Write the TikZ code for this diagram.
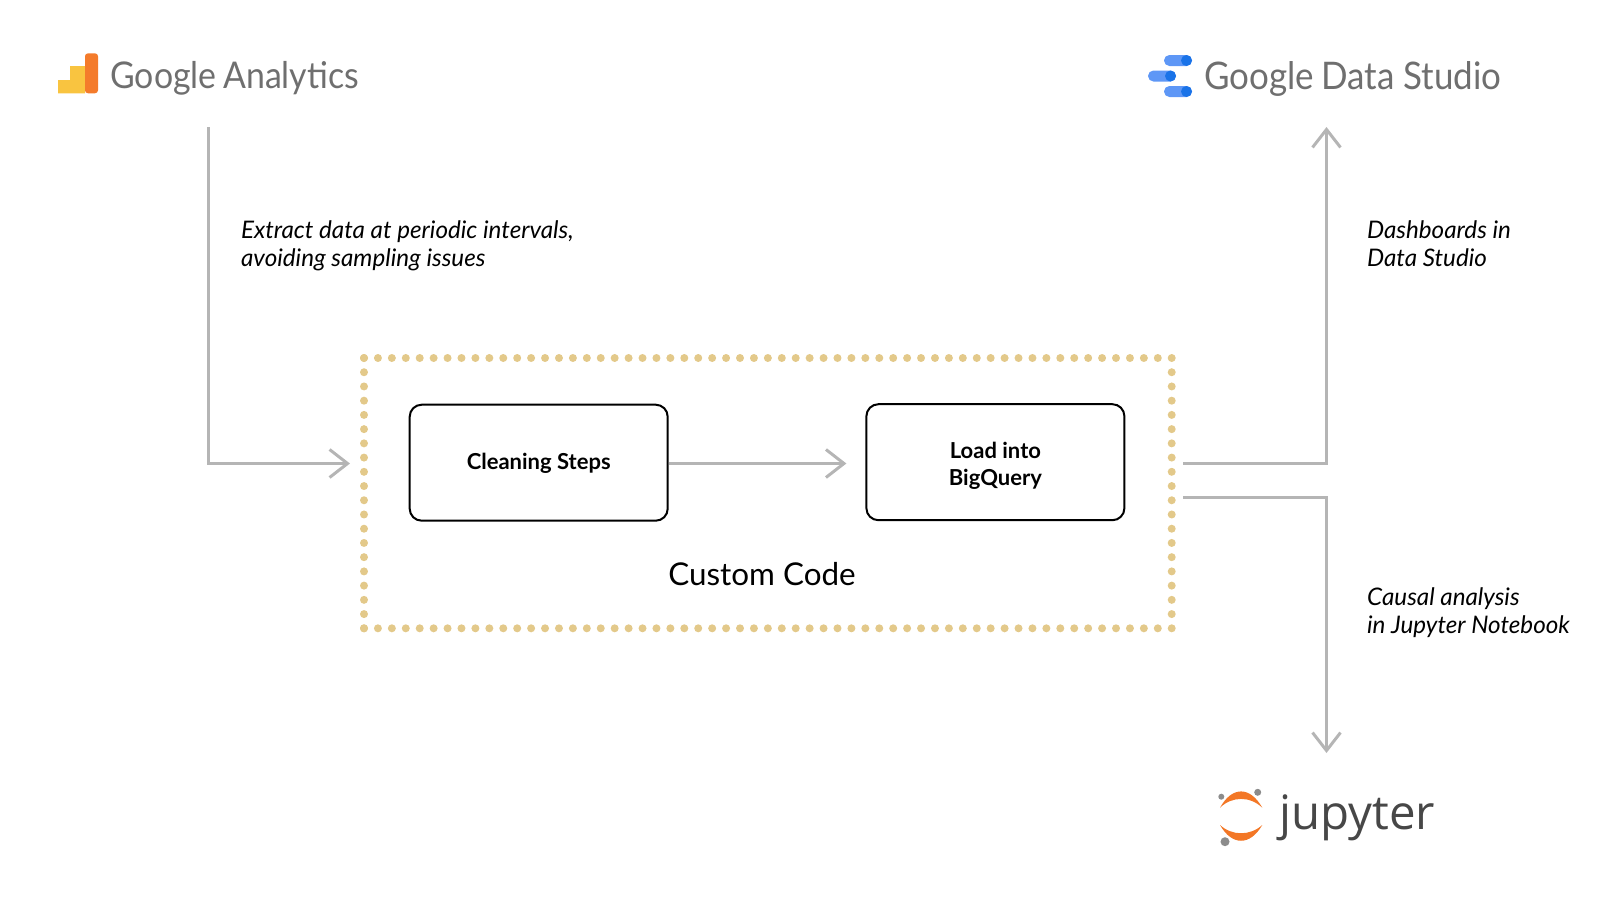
\documentclass[tikz,border=0pt]{standalone}
\usepackage{fontspec}
\setmainfont{Lato}
\newfontfamily\logofont{Open Sans}
\newfontfamily\brandfont[FakeStretch=0.92]{Lato}
\usetikzlibrary{arrows.meta}
\definecolor{flowgrey}{HTML}{B5B5B5}
\definecolor{logogrey}{HTML}{6F6F6F}
\definecolor{dotgold}{HTML}{E3C98A}
\definecolor{gayellow}{HTML}{F9C440}
\definecolor{gaorange}{HTML}{F47B2B}
\definecolor{dslight}{HTML}{5E97F6}
\definecolor{dsdark}{HTML}{1A73E8}
\definecolor{juporange}{HTML}{F37726}
\definecolor{jupgrey}{HTML}{8C8C8C}
\tikzset{
flowline/.style={draw=flowgrey,line width=1.5pt,-{Straight Barb[length=9pt,width=14pt,line width=1.5pt]}},
stepbox/.style={draw=black,line width=1pt,rounded corners=6pt,minimum width=129pt,minimum height=58pt,align=center,font=\fontsize{11}{13.5}\selectfont\bfseries},
note/.style={anchor=west,align=left,font=\fontsize{12.1}{14}\selectfont\itshape},
logotext/.style={anchor=west,text=logogrey,inner sep=0pt},
dotline/.style={dotgold,line width=4pt,line cap=round}
}
\begin{document}
\begin{tikzpicture}[x=0.5pt,y=-0.5pt]
\useasboundingbox (0,0) rectangle (1600,921);
% logos
\fill[gayellow] (58,93.3) -- (58,80) -- (70,80) -- (70,66) -- (85,66) -- (85,93.3) -- cycle;
\fill[gaorange,rounded corners=1.5pt] (85,53.3) rectangle (98,93.3);
\node[logotext] (ga) at (110,78) {\brandfont\fontsize{18.4}{18.4}\selectfont Google\hspace{-1pt} Analytics};
\fill[dslight,rounded corners=2.7pt] (1164,55) rectangle (1192,66);
\fill[dslight,rounded corners=2.7pt] (1148,70.5) rectangle (1176,81.5);
\fill[dslight,rounded corners=2.7pt] (1164,86) rectangle (1192,97);
\fill[dsdark] (1186.5,60.5) circle (5.5);
\fill[dsdark] (1170.5,76) circle (5.5);
\fill[dsdark] (1186.5,91.5) circle (5.5);
\node[logotext] (ds) at (1204,79) {\brandfont\fontsize{19}{19}\selectfont Google\hspace{-1pt} Data Studio};
\fill[juporange] (1220,807.7) .. controls (1232,786) and (1250,786) .. (1262.3,807.7) .. controls (1250,796) and (1232,796) .. (1220,807.7) -- cycle;
\fill[juporange] (1220,825) .. controls (1232,846) and (1250,846) .. (1262.3,825) .. controls (1250,836) and (1232,836) .. (1220,825) -- cycle;
\fill[jupgrey] (1221.3,796.7) circle (3);
\fill[jupgrey] (1257.7,792.3) circle (3.5);
\fill[jupgrey] (1225,841.7) circle (4.5);
\node[logotext,text=black!72] (jup) at (1279,818) {\logofont\fontsize{23.7}{24}\selectfont jupyter};
% custom code block
\coordinate (tl) at (364,358);
\coordinate (tr) at (1171.7,358);
\coordinate (bl) at (364,628.3);
\coordinate (br) at (1171.7,628.3);
\draw[dotline,dash pattern=on 0pt off 6.963pt] (tl) -- (tr) (bl) -- (br);
\draw[dotline,dash pattern=on 0pt off 7.113pt] (tl) -- (bl) (tr) -- (br);
\node[stepbox] (clean) at (538.7,462.7) {\rule{0pt}{9pt}Cleaning Steps};
\node[stepbox] (load) at (995.4,462.2) {\rule{0pt}{12pt}Load into\\BigQuery};
\node[font=\fontsize{15.7}{16}\selectfont] (code) at (762,574) {Custom Code};
% free ends
\coordinate (gaout) at (208,127);
\coordinate (codein) at (350,463.5);
\coordinate (dsin) at (1326.5,127);
\coordinate (jupin) at (1326.5,753);
\coordinate (codeouta) at (1183,463.5);
\coordinate (codeoutb) at (1183,497);
% connectors
\draw[flowline] (gaout) |- (codein);
\draw[flowline,shorten >=9.5pt] (clean.east |- codein) -- (load.west |- codein);
\draw[flowline] (codeouta) -| (dsin);
\draw[flowline] (codeoutb) -| (jupin);
% notes
\node[note] (extract) at (234,246) {Extract data at periodic intervals,\\avoiding sampling issues};
\node[note] (dash) at (1360,244) {Dashboards in\\Data Studio};
\node[note] (causal) at (1360,613) {Causal analysis\\in Jupyter Notebook};
\end{tikzpicture}
\end{document}
